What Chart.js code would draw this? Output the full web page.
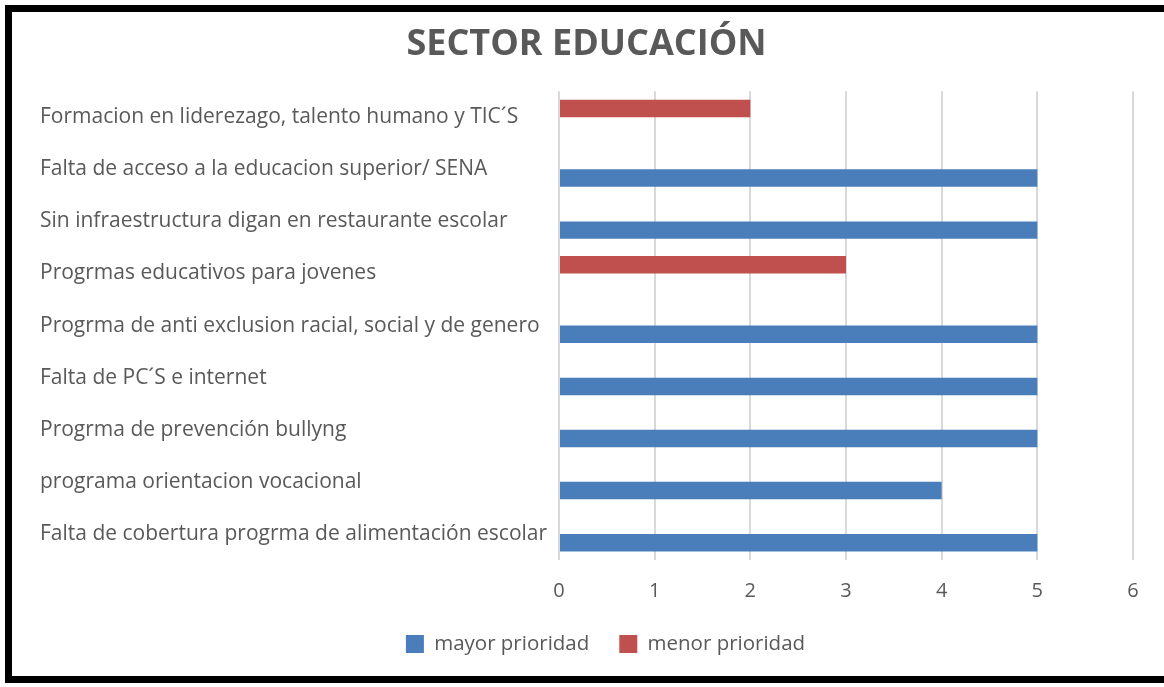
<!DOCTYPE html>
<html>
<head>
<meta charset="utf-8">
<script src="https://cdn.jsdelivr.net/npm/chart.js@4"></script>
<style>
  html, body { margin: 0; padding: 0; background: #fff; }
  #frame {
    position: absolute; left: 5px; top: 5px;
    width: 1159px; height: 664px;
    border-top: 7px solid #000; border-left: 7px solid #000; border-bottom: 7px solid #000;
    background: #fff;
  }
  #wrap { position: relative; width: 1152px; height: 664px; }
</style>
</head>
<body>
<div id="frame"><div id="wrap"><canvas id="eduChart"></canvas></div></div>
<script>
// categories top to bottom
const categories = [
    'Formacion en liderezago, talento humano y TIC´S',
    'Falta de acceso a la educacion superior/ SENA',
    'Sin infraestructura digan en restaurante escolar',
    'Progrmas educativos para jovenes',
    'Progrma de anti exclusion racial, social y de genero',
    'Falta de PC´S e internet',
    'Progrma de prevención bullyng',
    'programa orientacion vocacional',
    'Falta de cobertura progrma de alimentación escolar'
];
const mayorPrioridad = [null, 5, 5, null, 5, 5, 5, 4, 5];
const menorPrioridad = [2, null, null, 3, null, null, null, null, null];
const xTicks = [0, 1, 2, 3, 4, 5, 6];

const textGray = '#595959';
Chart.defaults.font.family = "'Open Sans', sans-serif";
Chart.defaults.color = textGray;

const ctx = document.getElementById('eduChart').getContext('2d');

let eduChart = new Chart(ctx, {
    type: 'bar',
    data: {
        labels: categories,
        datasets: [{
            label: 'menor prioridad',
            data: menorPrioridad,
            backgroundColor: '#c0504d',
            borderWidth: 0
        }, {
            label: 'mayor prioridad',
            data: mayorPrioridad,
            backgroundColor: '#4a7ebb',
            borderWidth: 0
        }]
    },
    options: {
        indexAxis: 'y',
        responsive: true,
        maintainAspectRatio: false,
        animation: false,
        categoryPercentage: 0.67,
        barPercentage: 1,
        layout: { padding: { left: 28, right: 31, top: 0, bottom: 11.75 } },
        plugins: {
            title: {
                display: true,
                text: 'SECTOR EDUCACIÓN',
                color: textGray,
                font: { size: 36, weight: 'bold' },
                padding: { top: 11, bottom: 25 }
            },
            legend: {
                position: 'bottom',
                reverse: true,
                labels: {
                    boxWidth: 18,
                    boxHeight: 18,
                    padding: 30,
                    color: textGray,
                    font: { size: 20.5 }
                }
            },
            tooltip: { enabled: false }
        },
        scales: {
            x: {
                min: 0,
                max: 6,
                afterBuildTicks: (scale) => { scale.ticks = xTicks.map(v => ({ value: v })); },
                afterFit: (scale) => { scale.height = 43.75; },
                grid: { color: '#d9d9d9', lineWidth: 2, drawTicks: false },
                border: { display: false },
                ticks: { padding: 19, color: textGray, font: { size: 20 } }
            },
            y: {
                afterFit: (scale) => { scale.width = 519; },
                grid: { display: false },
                border: { display: false },
                ticks: { crossAlign: 'far', color: textGray, font: { size: 21 } }
            }
        }
    },
    plugins: [{
        id: 'legendShift',
        afterLayout(chart) {
            chart.legend.left += 19;
            chart.legend.right += 19;
        }
    }]
});
</script>
</body>
</html>
